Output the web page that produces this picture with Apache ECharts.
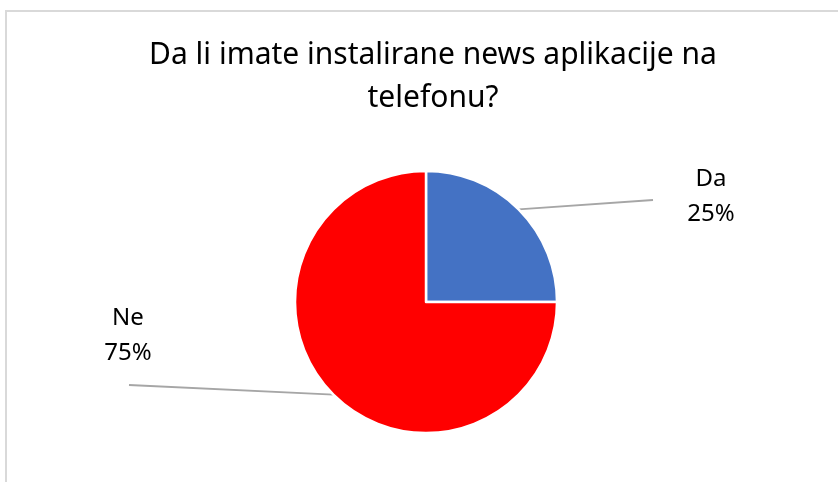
<!DOCTYPE html>
<html>
<head>
<meta charset="utf-8">
<script src="https://cdn.jsdelivr.net/npm/echarts@6/dist/echarts.min.js"></script>
<style>
html,body{margin:0;padding:0;background:#fff;}
#frame{position:absolute;left:5px;top:10px;width:840px;height:480px;border-left:2px solid #d9d9d9;border-top:2px solid #d9d9d9;}
#chart{position:absolute;left:0;top:0;width:838px;height:482px;}
</style>
</head>
<body>
<div id="frame"></div>
<div id="chart"></div>
<script>
const titleText = "Da li imate instalirane news aplikacije na\ntelefonu?";
const categories = ["Da", "Ne"];
const values = [25, 75];
const colors = ["#4472C4", "#FF0000"];

const chart = echarts.init(document.getElementById('chart'), null, {renderer: 'canvas'});
const labelPos = [
  {x: 711, y: 197, end: [653, 200]},
  {x: 128, y: 336, end: [129, 385]}
];
chart.setOption({
  animation: false,
  title: {
    text: titleText,
    left: 428,
    top: 29,
    textAlign: 'center',
    textStyle: {fontFamily: 'Noto Sans', fontSize: 30, fontWeight: 'normal', color: '#000', lineHeight: 43}
  },
  series: [{
    type: 'pie',
    center: [426, 302],
    radius: [0, 131],
    startAngle: 90,
    clockwise: true,
    itemStyle: {borderColor: '#fff', borderWidth: 2.5},
    data: categories.map((c, i) => ({name: c, value: values[i], itemStyle: {color: colors[i]}})),
    label: {
      show: true,
      formatter: p => p.name + '\n' + Math.round(p.percent) + '%',
      fontFamily: 'Noto Sans',
      fontSize: 24,
      lineHeight: 35,
      color: '#000',
      align: 'center'
    },
    labelLine: {show: true, length: 20, length2: 20, lineStyle: {color: '#a6a6a6', width: 1.8}},
    labelLayout: function (params) {
      const lp = labelPos[params.dataIndex];
      const p0 = params.labelLinePoints ? params.labelLinePoints[0] : null;
      const res = {x: lp.x, y: lp.y, align: 'center', verticalAlign: 'middle'};
      if (p0) {
        res.labelLinePoints = [p0, lp.end, lp.end];
      }
      return res;
    }
  }]
});
</script>
</body>
</html>
